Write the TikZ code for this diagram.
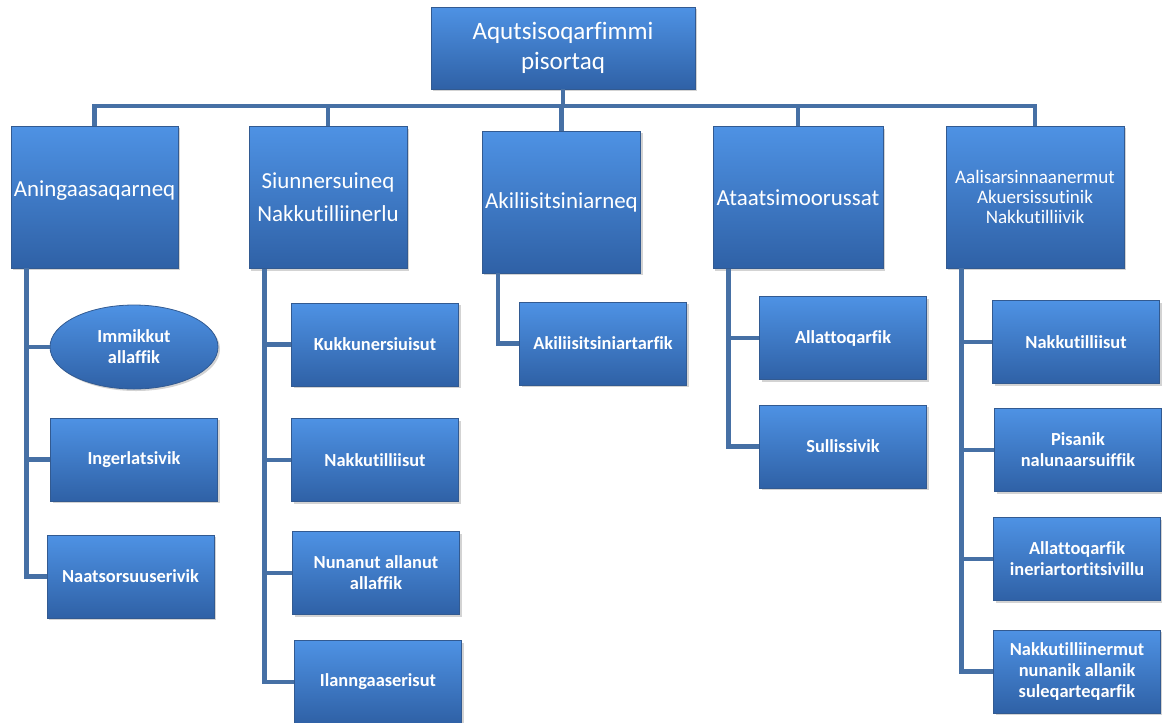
\documentclass[tikz,border=0pt]{standalone}
\usepackage{fontspec}
\setmainfont[RawFeature=-liga]{Carlito}
\usetikzlibrary{shapes.geometric,shadows}
\definecolor{boxtop}{RGB}{78,146,228}
\definecolor{boxbot}{RGB}{47,97,166}
\definecolor{boxrim}{RGB}{50,90,145}
\definecolor{linkblue}{RGB}{70,112,165}
\begin{document}
\begin{tikzpicture}[x=0.75pt,y=-0.75pt,
    box/.style={rectangle,top color=boxtop,bottom color=boxbot,draw=boxrim,line width=0.6pt,
      text=white,align=center,inner sep=2pt,
      drop shadow={opacity=0.35,shadow xshift=1.5pt,shadow yshift=-1.5pt}},
    head/.style={box,minimum width=198pt,minimum height=61.5pt,font=\fontsize{18.8}{22.5}\selectfont},
    dept/.style={box,minimum height=106.5pt,font=\fontsize{17.2}{24.5}\selectfont},
    unit/.style={box,minimum width=125.25pt,minimum height=62.25pt,font=\fontsize{13.8}{15.75}\selectfont\bfseries},
    link/.style={draw=linkblue,line width=3.2pt}]
  \useasboundingbox (0,0) rectangle (1162,722);
  % head
  \node [head] (top) at (563,48) {Aqutsisoqarfimmi\\pisortaq};
  % departments
  \node [dept,minimum width=125.25pt] (a) at (94.5,197) {Aningaasaqarneq\\[-12.5pt]\mbox{}};
  \node [dept,minimum width=118.5pt] (b) at (328,197.5) {Siunnersuineq\\Nakkutilliinerlu};
  \node [dept,minimum width=117.75pt] (c) at (561.5,202) {Akiliisitsiniarneq};
  \node [dept,minimum width=127.5pt] (d) at (798,197.5) {Ataatsimoorussat};
  \node [dept,minimum width=133.5pt,font=\fontsize{14.3}{15}\selectfont] (e) at (1035,197) {Aalisarsinnaanermut\\Akuersissutinik\\Nakkutilliivik};
  % units
  \node [unit,ellipse,inner sep=0pt,minimum width=126pt,minimum height=63pt] (a1) at (134,347) {Immikkut\\allaffik};
  \node [unit] (a2) at (134,459.5) {Ingerlatsivik};
  \node [unit] (a3) at (130.5,576.5) {Naatsorsuuserivik};
  \node [unit] (b1) at (375,344.5) {Kukkunersiuisut};
  \node [unit] (b2) at (375,460) {Nakkutilliisut};
  \node [unit] (b3) at (376,573) {Nunanut allanut\\allaffik};
  \node [unit] (b4) at (378,682) {Ilanngaaserisut};
  \node [unit] (c1) at (603,343.5) {Akiliisitsiniartarfik};
  \node [unit] (d1) at (843,338) {Allattoqarfik};
  \node [unit] (d2) at (843,446.5) {Sullissivik};
  \node [unit] (e1) at (1076,342) {Nakkutilliisut};
  \node [unit] (e2) at (1078,450) {Pisanik\\nalunaarsuiffik};
  \node [unit] (e3) at (1077,559) {Allattoqarfik\\ineriartortitsivillu};
  \node [unit] (e4) at (1077,671.5) {Nakkutilliinermut\\nunanik allanik\\suleqarteqarfik};
  % bus
  \coordinate (bus) at (0,106);
  \draw [link] (top.south) -- (top.south |- bus);
  \draw [link] (a.north) |- (bus -| e.north) -- (e.north);
  \foreach \n in {b,c,d}
    \draw [link] (\n.north) -- (\n.north |- bus);
  % spines
  \foreach \n in {a,b,c,d,e}
    \coordinate (\n spine) at ([xshift=12pt]\n.south west);
  \foreach \p/\k in {a/a3,b/b4,c/c1,d/d2,e/e4}
    \draw [link] (\p spine) |- (\k.west);
  \foreach \p/\k in {a/a1,a/a2,b/b1,b/b2,b/b3,d/d1,e/e1,e/e2,e/e3}
    \draw [link] (\p spine |- \k.west) -- (\k.west);
\end{tikzpicture}
\end{document}
